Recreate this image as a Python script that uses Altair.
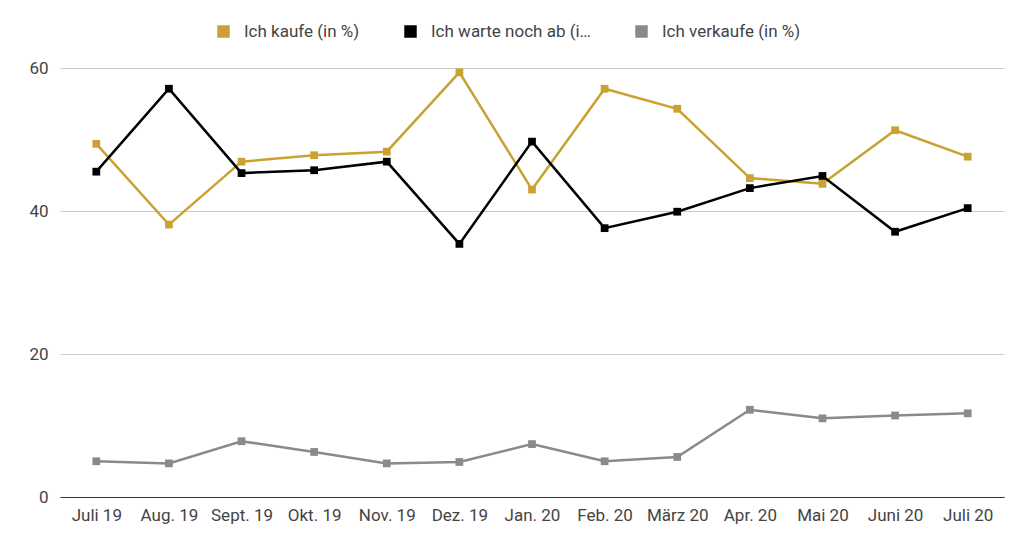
import altair as alt
import pandas as pd

months = ["Juli 19", "Aug. 19", "Sept. 19", "Okt. 19", "Nov. 19", "Dez. 19", "Jan. 20",
          "Feb. 20", "März 20", "Apr. 20", "Mai 20", "Juni 20", "Juli 20"]
kaufe = [49.4, 38.1, 46.9, 47.8, 48.3, 59.4, 43.0, 57.1, 54.3, 44.6, 43.8, 51.3, 47.6]
warte = [45.5, 57.1, 45.3, 45.7, 46.9, 35.4, 49.7, 37.6, 39.9, 43.2, 44.9, 37.1, 40.4]
verkaufe = [5.0, 4.7, 7.8, 6.3, 4.7, 4.9, 7.4, 5.0, 5.6, 12.2, 11.0, 11.4, 11.7]

series = ["Ich kaufe (in %)", "Ich warte noch ab (in %)", "Ich verkaufe (in %)"]
colors = ["#C9A232", "#000000", "#8A8A8A"]

rows = []
for name, vals in zip(series, [kaufe, warte, verkaufe]):
    for m, v in zip(months, vals):
        rows.append({"Monat": m, "Wert": v, "Serie": name})
df = pd.DataFrame(rows)

color = alt.Color("Serie:N", scale=alt.Scale(domain=series, range=colors),
                  sort=series,
                  legend=alt.Legend(title=None, orient="none", direction="horizontal",
                                    legendX=155, legendY=-45, symbolType="square",
                                    symbolSize=120, labelFontSize=17, labelColor="#444",
                                    labelOffset=12, columnPadding=42, labelFont="Roboto"))

base = alt.Chart(df).encode(
    x=alt.X("Monat:N", sort=months, scale=alt.Scale(type="point", padding=0.5),
            axis=alt.Axis(title=None, labelAngle=0, labelFontSize=17, labelColor="#444",
                          labelFont="Roboto", ticks=False, domainColor="#333",
                          labelPadding=10, grid=False)),
    y=alt.Y("Wert:Q", scale=alt.Scale(domain=[0, 60]),
            axis=alt.Axis(title=None, values=[0, 20, 40, 60], labelFontSize=17,
                          labelColor="#444", labelFont="Roboto", ticks=False,
                          domain=False, gridColor="#cccccc", labelPadding=12)),
    color=color,
    detail="Serie:N",
)

lines = base.mark_line(strokeWidth=2.5)
points = base.mark_point(shape="square", filled=True, size=60, opacity=1)

chart = alt.layer(lines, points).properties(
    width=944, height=429,
    autosize=alt.AutoSizeParams(type="none"),
    padding={"left": 52, "top": 60, "right": 12, "bottom": 40},
).configure_view(stroke=None)

chart.save("out.html", embed_options={"renderer": "svg", "actions": False})
